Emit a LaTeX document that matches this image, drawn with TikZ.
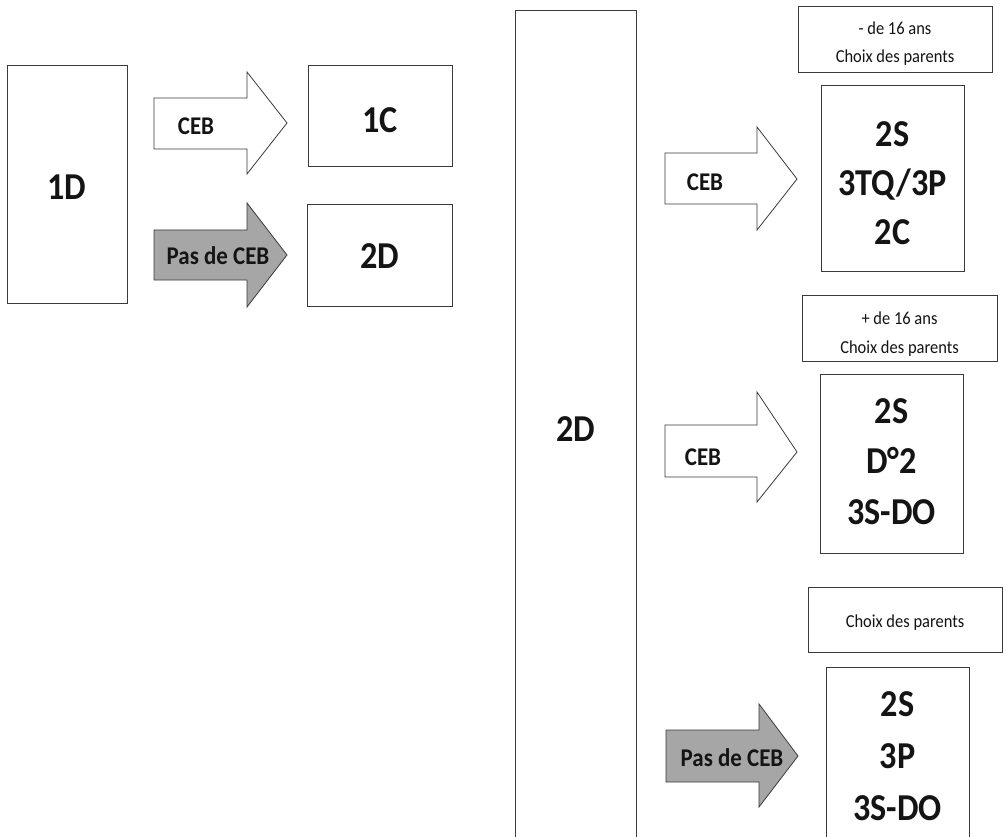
\documentclass[tikz,border=0pt]{standalone}
\usepackage{fontspec}
\setmainfont{Carlito}
\newfontfamily\condfont[FakeStretch=0.9]{Carlito}
\definecolor{linec}{HTML}{3A3A3A}
\definecolor{arrowgray}{HTML}{A6A6A6}
\definecolor{textc}{HTML}{141414}
\tikzset{
  box/.style={draw=linec, line width=0.8pt, fill=white, rectangle, inner sep=0pt, outer sep=0pt},
  blockw/.style={draw=linec, line width=0.8pt, fill=white, line join=miter},
  blockg/.style={draw=linec, line width=0.8pt, fill=arrowgray, line join=miter},
  big/.style={font=\condfont\fontsize{38}{44}\selectfont\bfseries, text=textc, anchor=base, inner sep=0pt},
  mid/.style={font=\condfont\fontsize{25.5}{30}\selectfont\bfseries, text=textc, anchor=base, inner sep=0pt},
  small/.style={font=\condfont\fontsize{18.3}{22}\selectfont, text=textc, anchor=base, inner sep=0pt}
}
\begin{document}
\begin{tikzpicture}[x=1pt,y=-1pt]
\useasboundingbox (0,0) rectangle (1007,837);
\clip (0,0) rectangle (1007,837);
% ---------- left part ----------
\node[box, minimum width=120pt, minimum height=238pt] (b1D) at (67,184) {};
\node[big] (t1D) at (67,200) {1D};
\node[box, minimum width=144pt, minimum height=101pt] (b1C) at (380,115.5) {};
\node[big] (t1C) at (380,133) {1C};
\node[box, minimum width=145pt, minimum height=102pt] (b2Da) at (379.5,255) {};
\node[big] (t2Da) at (379.5,269) {2D};
\draw[blockw] (154,98) -- (247,98) -- (247,72) -- (287,123) -- (247,174) -- (247,149) -- (154,149) -- cycle;
\node[mid] (a1) at (196,135) {CEB};
\draw[blockg] (154,230) -- (247,230) -- (247,203) -- (287,255) -- (247,307) -- (247,280) -- (154,280) -- cycle;
\node[mid] (a2) at (218,265) {Pas de CEB};
% ---------- right part ----------
\node[box, minimum width=121pt, minimum height=850pt] (b2D) at (575.5,435) {};
\node[big] (t2D) at (575.5,441) {2D};
% group 1
\node[box, minimum width=194pt, minimum height=66pt] (n1) at (895,39) {};
\node[small] (n1a) at (895,35) {- de 16 ans};
\node[small] (n1b) at (895,63) {Choix des parents};
\node[box, minimum width=143pt, minimum height=186pt] (g1) at (892.5,178) {};
\node[big] (g1a) at (892.5,147) {2S};
\node[big] (g1b) at (892.5,196) {3TQ/3P};
\node[big] (g1c) at (892.5,245) {2C};
\draw[blockw] (665,153) -- (757,153) -- (757,127) -- (797,179) -- (757,230) -- (757,204) -- (665,204) -- cycle;
\node[mid] (a3) at (705,191) {CEB};
% group 2
\node[box, minimum width=195pt, minimum height=66pt] (n2) at (899.5,328) {};
\node[small] (n2a) at (899.5,324) {+ de 16 ans};
\node[small] (n2b) at (899.5,353) {Choix des parents};
\node[box, minimum width=143pt, minimum height=179pt] (g2) at (891.5,463.5) {};
\node[big] (g2a) at (891.5,423) {2S};
\node[big] (g2b) at (891.5,473) {D°2};
\node[big] (g2c) at (891.5,524) {3S-DO};
\draw[blockw] (665,425) -- (757,425) -- (757,392) -- (797,452) -- (757,502) -- (757,477) -- (665,477) -- cycle;
\node[mid] (a4) at (703,465) {CEB};
% group 3
\node[box, minimum width=194pt, minimum height=65pt] (n3) at (905,619.5) {};
\node[small] (n3a) at (905,627) {Choix des parents};
\node[box, minimum width=143pt, minimum height=193pt] (g3) at (897.5,763.5) {};
\node[big] (g3a) at (897.5,716) {2S};
\node[big] (g3b) at (897.5,768) {3P};
\node[big] (g3c) at (897.5,820) {3S-DO};
\draw[blockg] (666,730) -- (759,730) -- (759,704) -- (798,756) -- (759,807) -- (759,782) -- (666,782) -- cycle;
\node[mid] (a5) at (732,766) {Pas de CEB};
\end{tikzpicture}
\end{document}
